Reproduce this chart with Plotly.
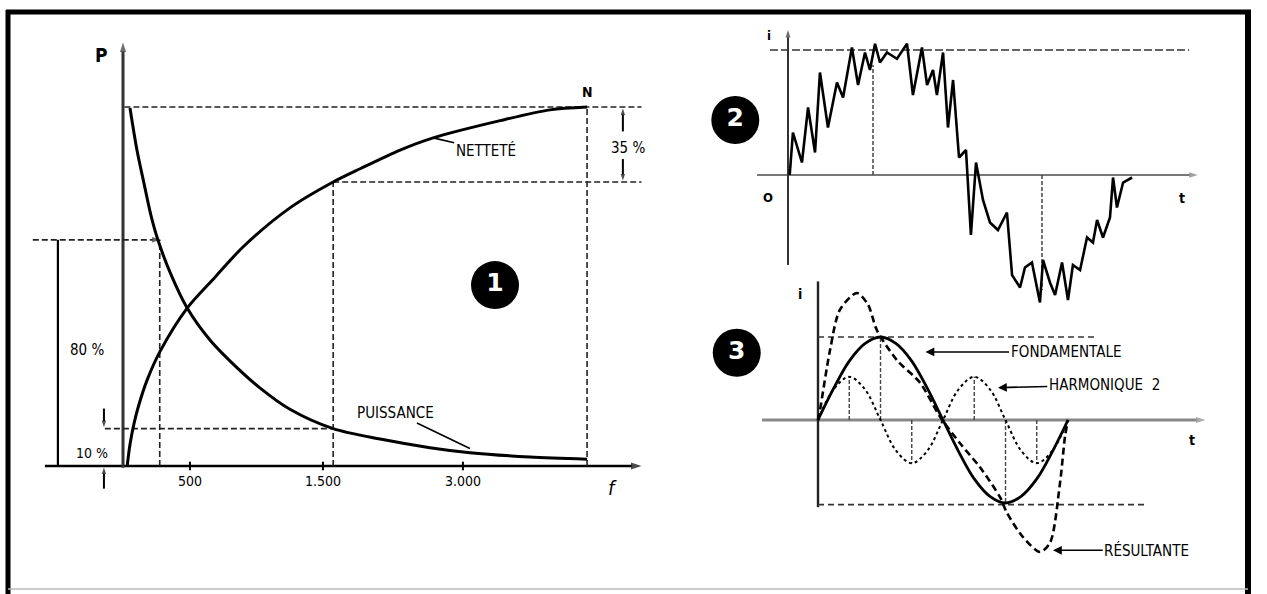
import plotly.graph_objects as go

W, H = 1267, 594

# ---------------- Figure 1 : puissance et netteté en fonction de f (unités relatives)
f_puissance = [1.5, 3.0, 4.5, 6.0, 7.5, 10.1, 13.8, 18.7, 24.1, 29.5, 35.9, 45.2, 55.3, 66.0, 74.6, 87.5, 99.8]
puissance = [99.7, 88.0, 78.8, 69.9, 63.0, 54.0, 44.0, 35.1, 27.9, 21.7, 15.8, 10.4, 7.5, 5.1, 3.7, 2.5, 1.9]
f_nettete = [0.9, 1.5, 2.4, 3.4, 5.2, 8.0, 13.8, 19.8, 25.8, 35.9, 45.2, 51.0, 59.6, 66.7, 81.1, 91.8, 99.8]
nettete = [0.0, 6.0, 12.0, 17.0, 24.0, 32.0, 44.0, 52.6, 61.0, 71.9, 79.1, 82.8, 88.0, 91.4, 96.2, 99.2, 100.0]
f_ticks = [14.4, 43.0, 73.1]
f_tick_labels = ["500", "1.500", "3.000"]

# ---------------- Figure 2 : courant déformé (t en ms, i relatif)
t_courant = [0.1, 0.29, 0.82, 1.18, 1.59, 1.88, 2.35, 2.88, 3.24, 3.76, 4.12, 4.53, 4.82, 5.12, 5.41,
             5.82, 6.41, 7.0, 7.35, 7.88, 8.18, 8.53, 8.76, 9.12, 9.41, 9.71, 10.06, 10.47, 10.76,
             11.06, 11.47, 11.88, 12.35, 12.88, 13.18, 13.65, 13.94, 14.35, 14.82, 15.0, 15.41,
             15.71, 16.12, 16.47, 16.76, 17.18, 17.59, 17.94, 18.18, 18.53, 18.94, 19.12, 19.35,
             19.71, 20.24]
i_courant = [0.0, 0.34, 0.10, 0.54, 0.18, 0.82, 0.38, 0.74, 0.62, 1.02, 0.72, 0.98, 0.84, 1.05, 0.90,
             0.98, 0.93, 1.05, 0.64, 1.02, 0.72, 0.84, 0.64, 0.98, 0.38, 0.76, 0.14, 0.20, -0.48,
             0.10, -0.20, -0.38, -0.44, -0.30, -0.80, -0.90, -0.74, -0.70, -1.02, -0.68, -0.86,
             -0.96, -0.70, -1.00, -0.72, -0.76, -0.50, -0.54, -0.36, -0.50, -0.34, -0.02, -0.26,
             -0.06, -0.02]
t_repere2 = [5.0, 14.94]

# ---------------- Figure 3 : fondamentale, harmonique 2 et résultante
t_onde = [0, 1.25, 2.5, 3.75, 5, 6.25, 7.5, 8.75, 10, 11.25, 12.5, 13.75, 15, 16.25, 17.5, 18.75, 20]
fondamentale = [0, 0.38, 0.71, 0.92, 1.0, 0.92, 0.71, 0.38, 0, -0.38, -0.71, -0.92, -1.0, -0.92, -0.71, -0.38, 0]
harmonique2 = [0, 0.37, 0.52, 0.37, 0, -0.37, -0.52, -0.37, 0, 0.37, 0.52, 0.37, 0, -0.37, -0.52, -0.37, 0]
t_resultante = [0, 0.16, 0.96, 1.76, 3.12, 4.0, 4.72, 6.32, 8.16, 9.76, 11.36, 12.96, 14.56, 15.12,
                16.4, 17.76, 18.56, 19.36, 19.76, 20]
resultante = [0, 0.12, 0.84, 1.33, 1.53, 1.39, 1.08, 0.72, 0.45, 0.04, -0.28, -0.57, -0.93, -1.12,
              -1.41, -1.59, -1.48, -0.76, -0.20, 0]
t_reperes3 = [2.5, 5, 7.5, 12.5, 15, 17.5]

FONT = "DejaVu Sans Condensed, Liberation Sans Narrow, DejaVu Sans, sans-serif"

fig = go.Figure()


def rng_x(ox, sx):
    return [(0 - ox) / sx, (W - ox) / sx]


def rng_y(oy, sy):
    return [(oy - H) / sy, oy / sy]


def line(xs, ys, ax, color="black", width=2.5, dash="solid", shape="linear", arrow=False,
         asize=10, smoothing=1.0):
    n = len(xs)
    style = dict(color=color, width=width, dash=dash, shape=shape)
    if shape == "spline":
        style["smoothing"] = smoothing
    tr = dict(x=xs, y=ys, mode="lines", xaxis="x" + ax, yaxis="y" + ax, line=style,
              hoverinfo="skip", showlegend=False)
    if arrow:
        tr["mode"] = "lines+markers"
        tr["marker"] = dict(symbol=["circle"] * (n - 1) + ["arrow"],
                            size=[0] * (n - 1) + [asize], angleref="previous",
                            color=color, line=dict(width=0))
    fig.add_trace(go.Scatter(**tr))


annotations = []


def label(text, x, y, ax, size=14, xanchor="center", color="black", bold=False):
    annotations.append(dict(text=text, x=x, y=y, xref="x" + ax, yref="y" + ax, showarrow=False,
                            xanchor=xanchor, yanchor="middle",
                            font=dict(family=FONT, size=size, color=color,
                                      weight="bold" if bold else "normal")))


def pointer(text, x_txt, y_txt, x_tip, y_tip, ax, head=2, size=14):
    annotations.append(dict(text=text, x=x_tip, y=y_tip, ax=x_txt, ay=y_txt,
                            xref="x" + ax, yref="y" + ax, axref="x" + ax, ayref="y" + ax,
                            showarrow=True, arrowhead=head, arrowsize=1.1, arrowwidth=1.6,
                            arrowcolor="black", standoff=0,
                            font=dict(family=FONT, size=size, color="black")))


def badge(num, x, y, ax):
    fig.add_trace(go.Scatter(x=[x], y=[y], mode="markers+text", xaxis="x" + ax, yaxis="y" + ax,
                             marker=dict(size=48, color="black"), text=[num],
                             textposition="middle center",
                             textfont=dict(family="DejaVu Sans", size=25, color="white", weight="bold"),
                             hoverinfo="skip", showlegend=False))


GUIDE = dict(color="#222", width=1.6, dash="6px,3px")

# ===== Figure 1 =====
a = ""
f_N, n_N = f_nettete[-1], nettete[-1]
f_ref, n_ref = f_nettete[10], nettete[10]
p_ref = puissance[11]
f_80, p_80 = f_puissance[4], puissance[4]

# axes
line([-16.8, 111.5], [0, 0], a, width=2.4, arrow=True, asize=11)
line([0, 0], [-0.5, 118.0], a, color="#333", width=3, arrow=True, asize=10)
for ft in f_ticks:
    line([ft, ft], [-1.2, 1.2], a, width=2)

# repères en tirets
line([0.3, 111.5], [n_N, n_N], a, **GUIDE)
line([f_N, f_N], [0, n_N], a, **GUIDE)
line([f_ref, 111.5], [n_ref, n_ref], a, **GUIDE)
line([f_ref, f_ref], [0, n_ref], a, **GUIDE)
line([-3.9, f_ref], [p_ref, p_ref], a, **GUIDE)
line([-19.4, f_80 + 0.6], [p_80, p_80], a, color="#222", width=1.8, dash="6px,3px", arrow=True, asize=9)
line([f_80 + 0.4, f_80 + 0.4], [0, p_80], a, **GUIDE)

# cotes 80 %, 10 %, 35 %
line([-14.0, -14.0], [0, p_80], a, width=2.2)
line([-4.1, -4.1], [16.0, p_ref + 0.4], a, width=2, arrow=True, asize=7)
line([-4.1, -4.1], [-6.3, -0.4], a, width=2, arrow=True, asize=7)
line([107.5, 107.5], [93.2, n_N - 0.4], a, width=2, arrow=True, asize=7)
line([107.5, 107.5], [85.5, n_ref + 0.4], a, width=2, arrow=True, asize=7)

# courbes
line(f_puissance, puissance, a, width=3, shape="spline", smoothing=0.85)
line(f_nettete, nettete, a, width=3, shape="spline", smoothing=0.85)

label("P", -4.7, 114.5, a, size=19, bold=True)
label("N", f_N, 104.3, a, size=14, bold=True)
label("80 %", -7.8, 32.3, a, size=15)
label("10 %", -6.7, 3.6, a, size=14)
label("35 %", 108.6, 88.6, a, size=15)
label("<i>f</i>", 105.3, -6.2, a, size=20)
for ft, txt in zip(f_ticks, f_tick_labels):
    label(txt, ft, -4.3, a, size=14)
pointer("NETTETÉ", 78.0, 88.0, f_nettete[13], nettete[13], a, head=0, size=15)
pointer("PUISSANCE", 58.5, 14.9, f_puissance[14], puissance[14] + 1.2, a, head=0, size=15)
badge("1", 80.0, 50.4, a)

# ===== Figure 2 =====
a = "2"
line([-1.82, 24.1], [0, 0], a, color="#777", width=2.2, arrow=True, asize=9)
line([0, 0], [-0.72, 1.16], a, color="#333", width=2, arrow=True, asize=8)
line([-1.06, 23.6], [1.0, 1.0], a, color="#333", width=1.6, dash="8px,3px")
line([t_repere2[0]] * 2, [0, 0.88], a, color="#444", width=1.5, dash="4px,2px")
line([t_repere2[1]] * 2, [0, -0.92], a, color="#444", width=1.5, dash="4px,2px")
line(t_courant, i_courant, a, width=2.6)
label("i", -1.1, 1.12, a, size=13, bold=True)
label("O", -1.2, -0.18, a, size=13, bold=True)
label("t", 23.2, -0.18, a, size=14, bold=True)
badge("2", -3.1, 0.44, a)

# ===== Figure 3 =====
a = "3"
line([-4.48, 31.0], [0, 0], a, color="#888", width=3, arrow=True, asize=10)
line([0, 0], [-1.05, 1.67], a, color="#222", width=2.4)
line([0, 22.16], [1.0, 1.0], a, color="#333", width=1.6, dash="6px,4px")
line([0, 26.16], [-1.02, -1.02], a, color="#333", width=1.8, dash="6px,4px")
for tr_ in t_reperes3:
    k = t_onde.index(tr_)
    v = fondamentale[k] if abs(fondamentale[k]) > 0.99 else harmonique2[k]
    line([tr_, tr_], [0, v], a, color="#444", width=1.4, dash="4px,2px")
line(t_onde, harmonique2, a, width=2, dash="3px,3px", shape="spline")
line(t_onde, fondamentale, a, width=2.8, shape="spline")
line(t_resultante, resultante, a, width=2.6, dash="7px,4px", shape="spline", smoothing=0.8)
label("i", -1.45, 1.52, a, size=14, bold=True)
label("t", 29.9, -0.24, a, size=14, bold=True)
pointer("FONDAMENTALE", 19.8, 0.82, 8.6, 0.82, a, size=15)
pointer("HARMONIQUE  2", 22.9, 0.42, 14.4, 0.39, a, size=15)
pointer("RÉSULTANTE", 26.3, -1.57, 18.8, -1.57, a, size=15)
badge("3", -6.5, 0.81, a)


# cadre
def px_line(x0, y0, x1, y1, width, color="black"):
    return dict(type="line", xref="paper", yref="paper", x0=x0 / W, x1=x1 / W,
                y0=1 - y0 / H, y1=1 - y1 / H, line=dict(color=color, width=width))


shapes = [
    px_line(6, 12, 1251, 12, 5),
    px_line(8, 10, 8, 594, 5),
    px_line(1248, 10, 1248, 594, 6),
    px_line(8, 589, 1248, 589, 1.5, "#bbb"),
]

axes = {}
for key, (ox, sx, oy, sy) in {"": (123, 4.65, 466, 3.59),
                              "2": (788, 17.0, 175, 125.0),
                              "3": (818, 12.5, 420, 83.0)}.items():
    axes["xaxis" + key] = dict(domain=[0, 1], range=rng_x(ox, sx), visible=False,
                               anchor="y" + key, fixedrange=True)
    axes["yaxis" + key] = dict(domain=[0, 1], range=rng_y(oy, sy), visible=False,
                               anchor="x" + key, fixedrange=True)

fig.update_layout(width=W, height=H, autosize=False, margin=dict(l=0, r=0, t=0, b=0),
                  paper_bgcolor="white", plot_bgcolor="rgba(0,0,0,0)",
                  showlegend=False, annotations=annotations, shapes=shapes, **axes)

fig.write_html("out.html", config={"displayModeBar": False})
